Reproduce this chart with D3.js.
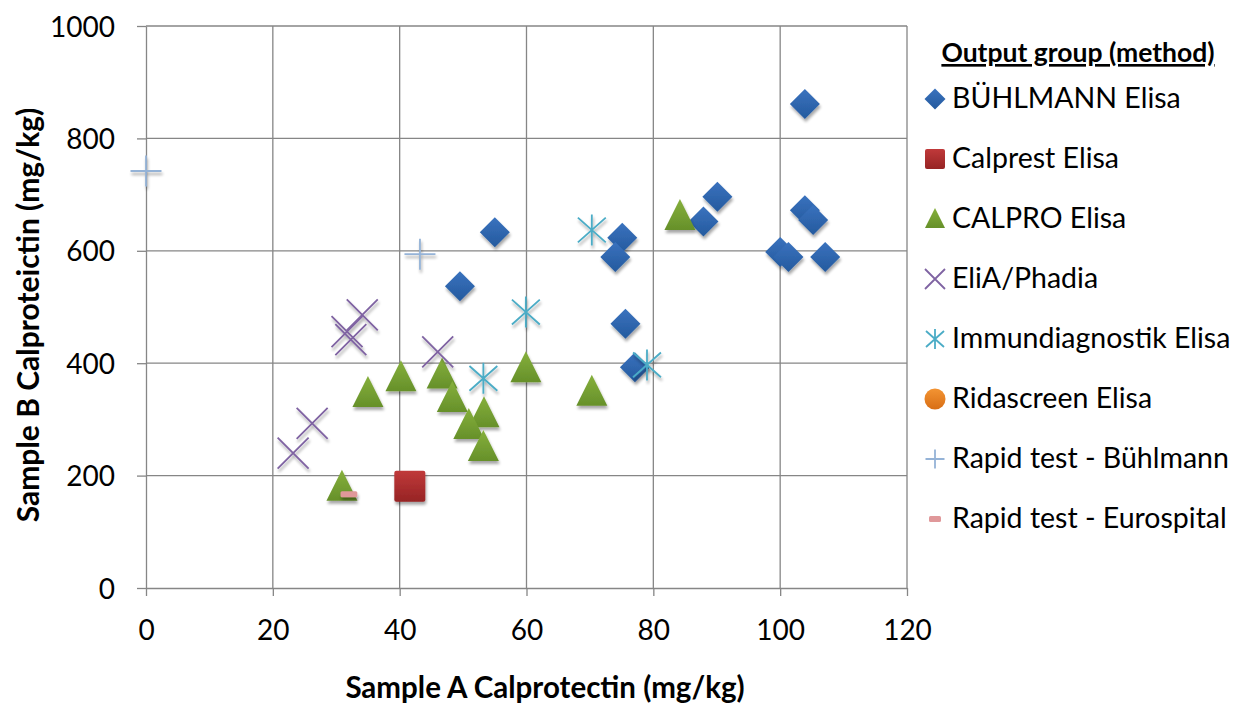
<!DOCTYPE html>
<html><head><meta charset="utf-8">
<script src="https://cdn.jsdelivr.net/npm/d3@7"></script>
<style>body{margin:0;background:#fff}svg{display:block}text{font-family:Lato,"Liberation Sans",sans-serif}</style>
</head><body><svg id="c" width="1251" height="705"></svg>
<script>
const xTicks = [0,20,40,60,80,100,120];
const yTicks = [0,200,400,600,800,1000];
const seriesNames = ["BÜHLMANN Elisa","Calprest Elisa","CALPRO Elisa","EliA/Phadia","Immundiagnostik Elisa","Ridascreen Elisa","Rapid test - Bühlmann","Rapid test - Eurospital"];
const buhlmann = [[103.9,861],[103.9,672],[105.2,655],[90.1,696],[87.9,652],[100,598],[101.3,589],[107.1,589],[75.1,623],[74,589],[75.6,470],[77.1,393],[55,633],[49.5,537]];
const calprest = [[41.6,181]];
const calpro = [[30.9,180],[35,347],[40.2,375],[46.7,380],[48.3,338],[53.3,311],[50.9,290],[53.2,251],[59.9,391],[70.3,349],[84.2,662]];
const elia = [[34.1,486],[31.7,456],[32.3,442],[46,420],[26.2,293],[23.2,240]];
const immun = [[53.2,373],[70.3,637],[79,397],[59.9,491]];
const ridascreen = [];
const rapidBuhl = [[0,742],[43.2,594]];
const rapidEuro = [[32,167]];
const seriesData = [buhlmann,calprest,calpro,elia,immun,ridascreen,rapidBuhl,rapidEuro];

const svg = d3.select("#c");
const L=146,R=907,T=26,B=588;
const x = d3.scaleLinear().domain([0,120]).range([L,R]);
const y = d3.scaleLinear().domain([0,1000]).range([B,T]);

const defs = svg.append("defs");
const f = defs.append("filter").attr("id","sh").attr("x","-50%").attr("y","-50%").attr("width","200%").attr("height","200%");
f.append("feGaussianBlur").attr("in","SourceAlpha").attr("stdDeviation",1.8);
f.append("feOffset").attr("dx",1).attr("dy",2.5).attr("result","o");
f.append("feComponentTransfer").append("feFuncA").attr("type","linear").attr("slope",0.35);
const m = f.append("feMerge"); m.append("feMergeNode"); m.append("feMergeNode").attr("in","SourceGraphic");
function grad(id,c1,c2){const g=defs.append("linearGradient").attr("id",id).attr("x1",0).attr("y1",0).attr("x2",0).attr("y2",1);
 g.append("stop").attr("offset","0%").attr("stop-color",c1); g.append("stop").attr("offset","100%").attr("stop-color",c2);}
grad("gB","#3A72BE","#245A9E"); grad("gR","#C0393A","#962424"); grad("gG","#86B03C","#66902A"); grad("gO","#F39433","#D86E14");

// grid
svg.append("g").selectAll("line").data(xTicks.slice(1)).join("line")
 .attr("x1",d=>x(d)).attr("x2",d=>x(d)).attr("y1",T).attr("y2",B).attr("stroke","#868686").attr("stroke-width",1.3);
svg.append("g").selectAll("line").data(yTicks.slice(1)).join("line")
 .attr("x1",L).attr("x2",R).attr("y1",d=>y(d)).attr("y2",d=>y(d)).attr("stroke","#868686").attr("stroke-width",1.3);

// axes
const xa = svg.append("g").attr("transform",`translate(0,${B})`).call(d3.axisBottom(x).tickValues(xTicks).tickFormat(d3.format("d")).tickSize(8).tickPadding(24).tickSizeOuter(0));
const ya = svg.append("g").attr("transform",`translate(${L},0)`).call(d3.axisLeft(y).tickValues(yTicks).tickFormat(d3.format("d")).tickSize(9).tickPadding(22).tickSizeOuter(0));
[xa,ya].forEach(a=>{a.select(".domain").attr("stroke","#868686").attr("stroke-width",1.3);
 a.selectAll(".tick line").attr("stroke","#868686").attr("stroke-width",1.3);
 a.selectAll("text").attr("font-size",28).attr("fill","#000").attr("font-family","Lato,sans-serif");});
ya.selectAll("text").attr("dy","0.36em");

svg.append("text").attr("x",545).attr("y",698).attr("text-anchor","middle").attr("font-weight","bold").attr("font-size",29.5).text("Sample A Calprotectin (mg/kg)");
svg.append("text").attr("transform","translate(39,315) rotate(-90)").attr("text-anchor","middle").attr("font-weight","bold").attr("font-size",30).text("Sample B Calproteictin (mg/kg)");

// marker drawers
function draw(g,i,s){
 switch(i){
  case 0: g.append("path").attr("d",`M0,${-s/2}L${s/2},0L0,${s/2}L${-s/2},0Z`).attr("fill","url(#gB)"); break;
  case 1: g.append("rect").attr("x",-s/2).attr("y",-s/2).attr("width",s).attr("height",s).attr("rx",2).attr("fill","url(#gR)"); break;
  case 2: g.append("path").attr("d",`M0,${-s*0.55}L${s*0.5},${s*0.45}L${-s*0.5},${s*0.45}Z`).attr("fill","url(#gG)"); break;
  case 3: g.append("path").attr("d",`M${-s/2},${-s/2}L${s/2},${s/2}M${s/2},${-s/2}L${-s/2},${s/2}`).attr("stroke","#7F63A2").attr("stroke-width",1.8).attr("fill","none"); break;
  case 4: g.append("path").attr("d",`M0,${-s/2}V${s/2}M${-s*0.45},${-s*0.4}L${s*0.45},${s*0.4}M${s*0.45},${-s*0.4}L${-s*0.45},${s*0.4}`).attr("stroke","#4BACC6").attr("stroke-width",1.8).attr("fill","none"); break;
  case 5: g.append("circle").attr("r",s/2).attr("fill","url(#gO)"); break;
  case 6: g.append("path").attr("d",`M0,${-s/2}V${s/2}M${-s/2},0H${s/2}`).attr("stroke","#95B3D7").attr("stroke-width",1.8).attr("fill","none"); break;
  case 7: g.append("rect").attr("x",-s*0.3).attr("y",-3).attr("width",s*0.6).attr("height",6).attr("rx",1.5).attr("fill","#E0989A"); break;
 }
}
const plotSize=[30,31,31,31,31,30,31,28];
seriesData.forEach((data,i)=>{
 svg.append("g").attr("filter","url(#sh)").selectAll("g").data(data).join("g")
  .attr("transform",d=>`translate(${x(d[0])},${y(d[1])})`).each(function(){draw(d3.select(this),i,plotSize[i]);});
});

// legend
const lg = svg.append("g");
lg.append("text").attr("x",1078).attr("y",62).attr("text-anchor","middle").attr("font-weight","bold").attr("font-size",26.5).attr("text-decoration","underline").text("Output group  (method)");
const legSize=[21,20,20,20,20,21,19,20];
seriesNames.forEach((n,i)=>{
 const cy=99+i*60;
 const g=lg.append("g").attr("transform",`translate(935,${cy})`);
 draw(g,i,legSize[i]);
 lg.append("text").attr("x",952).attr("y",cy+9).attr("font-size",28.5).attr("fill","#000").text(n);
});
</script></body></html>
